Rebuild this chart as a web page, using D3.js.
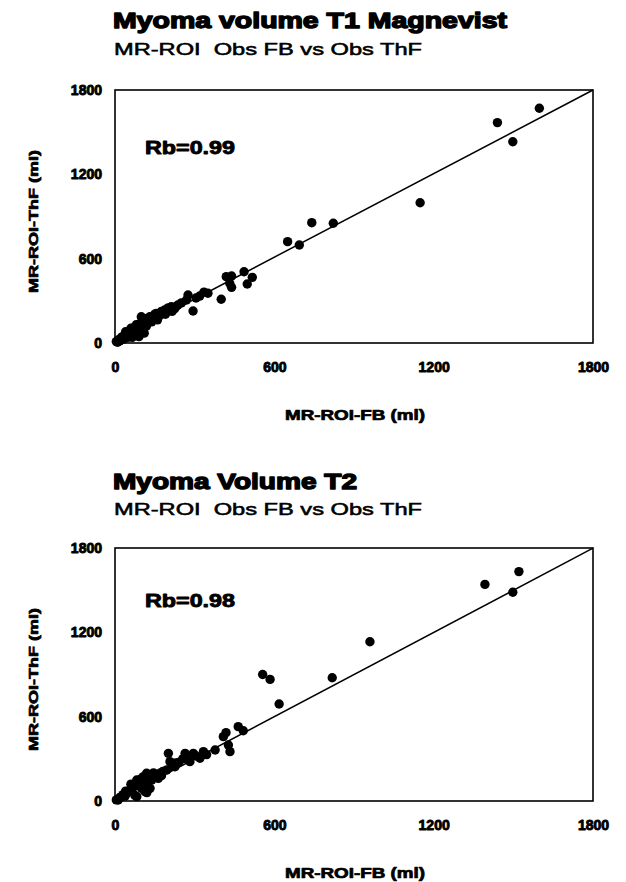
<!DOCTYPE html>
<html>
<head>
<meta charset="utf-8">
<script src="https://cdn.jsdelivr.net/npm/d3@7"></script>
<style>
  html, body { margin: 0; padding: 0; background: #fff; }
  svg { display: block; }
  text { font-family: "Liberation Sans", Arial, sans-serif; fill: #000; }
</style>
</head>
<body>
<svg id="chart" width="626" height="882"></svg>
<script>
// ---------- data ----------
const titles = ["Myoma volume T1 Magnevist", "Myoma Volume T2"];
const subtitles = ["MR-ROI  Obs FB vs Obs ThF", "MR-ROI  Obs FB vs Obs ThF"];
const rbLabels = ["Rb=0.99", "Rb=0.98"];
const xLabel = "MR-ROI-FB (ml)";
const yLabel = "MR-ROI-ThF (ml)";
const tickValues = [0, 600, 1200, 1800];

// T1 Magnevist: [FB, ThF]
const t1Points = [
  [5,10],[10,5],[12,22],[18,15],[22,35],[28,45],[32,28],[38,55],[42,62],[48,40],
  [52,75],[58,85],[62,60],[68,98],[72,110],[78,80],[85,118],[90,45],[95,140],[99,187],
  [104,130],[110,70],[113,160],[120,175],[131,187],[138,150],[150,205],[156,211],[165,190],[175,225],
  [187,235],[200,250],[212,258],[225,245],[237,270],[250,285],[269,306],[275,341],[294,228],[305,320],
  [319,334],[335,362],[350,354],[400,311],[419,472],[432,425],[439,477],[439,396],[486,507],[498,420],
  [517,467],[650,721],[694,697],[741,856],[822,852],[1149,998],[1440,1568],[1498,1432],[1598,1670],
  [60,105],[80,130],[100,110],[125,150],[145,180],[170,200],[190,205],[215,225],[40,80],[65,40],
  [118,120],[160,165],[230,260]
];
// T2: [FB, ThF]
const t2Points = [
  [5,8],[12,7],[18,25],[25,31],[30,45],[38,35],[44,55],[50,70],[56,78],[62,95],
  [69,102],[75,40],[82,149],[82,31],[90,120],[100,90],[107,173],[113,66],[119,197],[125,140],
  [132,90],[138,149],[150,175],[163,161],[169,197],[180,210],[195,221],[201,339],[207,280],[215,250],
  [226,244],[240,275],[264,339],[270,300],[282,280],[295,339],[305,320],[320,304],[333,351],[345,330],
  [377,363],[408,458],[418,486],[427,398],[433,351],[464,529],[483,500],[556,900],[584,865],[618,690],
  [818,877],[960,1133],[1393,1541],[1498,1485],[1521,1632],
  [60,120],[95,155],[110,110],[145,200],[175,180],[230,270],[255,300],[120,60],[40,70]
];
// regression lines: [slope, intercept]
const t1Fit = [0.991, 16];
const t2Fit = [1.01, -19];

// ---------- layout ----------
const panels = [
  { points: t1Points, fit: t1Fit, title: titles[0], subtitle: subtitles[0], rb: rbLabels[0],
    top: 90, bottom: 343, titleW: 394, subW: 308 },
  { points: t2Points, fit: t2Fit, title: titles[1], subtitle: subtitles[1], rb: rbLabels[1],
    top: 548, bottom: 801, titleW: 244, subW: 308 }
];
const left = 115, right = 593;

const svg = d3.select("#chart");

panels.forEach((p, i) => {
  const x = d3.scaleLinear().domain([0, 1800]).range([left, right]);
  const y = d3.scaleLinear().domain([0, 1800]).range([p.bottom, p.top]);
  const g = svg.append("g");

  // titles
  g.append("text")
    .attr("x", 113).attr("y", p.top - 62 + (i === 1 ? 3 : 0))
    .attr("font-size", 22).attr("font-weight", "bold")
    .attr("stroke", "#000").attr("stroke-width", 1.4).attr("stroke-linejoin", "round")
    .attr("textLength", p.titleW).attr("lengthAdjust", "spacingAndGlyphs")
    .text(p.title);
  g.append("text")
    .attr("x", 114).attr("y", p.top - 35 + (i === 1 ? 2 : 0))
    .attr("font-size", 16.5)
    .attr("stroke", "#000").attr("stroke-width", 0.55)
    .attr("textLength", p.subW).attr("lengthAdjust", "spacingAndGlyphs")
    .style("white-space", "pre")
    .text(p.subtitle);

  // axes (no tick marks, labels only)
  const xAxis = g.append("g")
    .attr("transform", `translate(0,${p.bottom})`)
    .call(d3.axisBottom(x).tickValues(tickValues).tickSize(0).tickPadding(19).tickFormat(d3.format("d")));
  const yAxis = g.append("g")
    .attr("transform", `translate(${left},0)`)
    .call(d3.axisLeft(y).tickValues(tickValues).tickSize(0).tickPadding(13).tickFormat(d3.format("d")));
  [xAxis, yAxis].forEach(a => {
    a.select(".domain").remove();
    a.selectAll("text")
      .attr("font-family", "Liberation Sans, Arial, sans-serif")
      .attr("font-size", 14).attr("font-weight", "bold")
      .attr("stroke", "#000").attr("stroke-width", 0.9).attr("stroke-linejoin", "round")
      .attr("fill", "#000");
  });

  // frame
  g.append("rect")
    .attr("x", left).attr("y", p.top)
    .attr("width", right - left).attr("height", p.bottom - p.top)
    .attr("fill", "none").attr("stroke", "#000").attr("stroke-width", 1.6);

  // axis titles
  g.append("text")
    .attr("x", (left + right) / 2 + 1).attr("y", p.bottom + 77)
    .attr("text-anchor", "middle")
    .attr("font-size", 14).attr("font-weight", "bold")
    .attr("stroke", "#000").attr("stroke-width", 0.7).attr("stroke-linejoin", "round")
    .attr("textLength", 140).attr("lengthAdjust", "spacingAndGlyphs")
    .text(xLabel);
  g.append("text")
    .attr("transform", `translate(38,${(p.top + p.bottom) / 2 + 5}) rotate(-90)`)
    .attr("text-anchor", "middle")
    .attr("font-size", 13).attr("font-weight", "bold")
    .attr("stroke", "#000").attr("stroke-width", 0.7).attr("stroke-linejoin", "round")
    .attr("textLength", 143).attr("lengthAdjust", "spacingAndGlyphs")
    .text(yLabel);

  // Rb label
  g.append("text")
    .attr("x", 145).attr("y", p.top + 64 - (i === 1 ? 5 : 0))
    .attr("font-size", 19).attr("font-weight", "bold")
    .attr("stroke", "#000").attr("stroke-width", 0.9).attr("stroke-linejoin", "round")
    .attr("textLength", 90).attr("lengthAdjust", "spacingAndGlyphs")
    .text(p.rb);

  // regression line
  const x0 = 0, x1 = 1800;
  const lineData = [[x0, p.fit[0] * x0 + p.fit[1]], [x1, p.fit[0] * x1 + p.fit[1]]]
    .map(d => [d[0], Math.max(0, Math.min(1800, d[1]))]);
  g.append("path")
    .attr("d", d3.line().x(d => x(d[0])).y(d => y(d[1]))(lineData))
    .attr("fill", "none").attr("stroke", "#000").attr("stroke-width", 1.5);

  // points
  g.append("g").selectAll("circle")
    .data(p.points)
    .join("circle")
    .attr("cx", d => x(d[0]))
    .attr("cy", d => y(d[1]))
    .attr("r", 4.7)
    .attr("fill", "#000");
});
</script>
</body>
</html>
